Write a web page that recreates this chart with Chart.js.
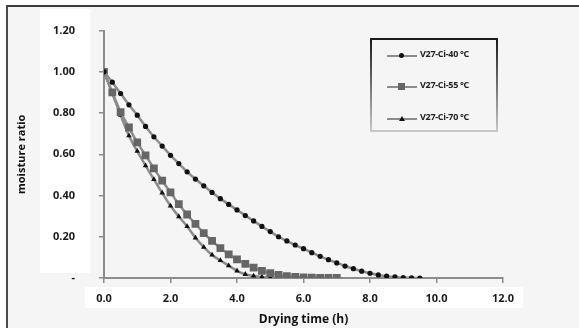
<!DOCTYPE html>
<html>
<head>
<meta charset="utf-8">
<script src="https://cdn.jsdelivr.net/npm/chart.js@4.4.1/dist/chart.umd.min.js"></script>
<style>
  html, body { margin: 0; padding: 0; background: #fff; }
  #wrap { position: relative; width: 579px; height: 328px; overflow: hidden; background: #fff; }
  #panel { position: absolute; left: 6px; top: 5px; width: 600px; height: 340px;
           border-left: 2px solid #4a4a4a; border-top: 2px solid #3a3a3a; background: #f5f5f5; }
  .wbox { position: absolute; background: #fff; }
  #chart { position: absolute; left: 0; top: 0; }
  #legend { position: absolute; left: 370px; top: 38px; width: 124px; height: 90px;
            border: 2px solid; border-image: linear-gradient(#1a1a1a, #c8c8c8) 1; }
  .row { position: absolute; left: 15px; height: 10px; }
  .ln { position: absolute; left: 0; top: 4px; width: 30px; height: 1.5px; background: #8c8c8c; }
  .mk { position: absolute; }
  .tx { position: absolute; left: 33px; top: -4px; white-space: nowrap;
        font: bold 9px "Open Sans", sans-serif; color: #222; letter-spacing: -0.3px; }
</style>
</head>
<body>
<div id="wrap">
  <div id="panel"></div>
  <div class="wbox" style="left:40px;top:9px;width:50px;height:264px"></div>
  <div class="wbox" style="left:85px;top:287px;width:438px;height:21px"></div>
  <canvas id="chart" width="579" height="328"></canvas>
  <div id="legend"></div>
</div>
<script>
// drying curves, moisture ratio vs time, readings every 0.25 h
const hours = [0, 0.25, 0.5, 0.75, 1, 1.25, 1.5, 1.75, 2, 2.25, 2.5, 2.75, 3, 3.25, 3.5, 3.75,
  4, 4.25, 4.5, 4.75, 5, 5.25, 5.5, 5.75, 6, 6.25, 6.5, 6.75, 7, 7.25, 7.5, 7.75,
  8, 8.25, 8.5, 8.75, 9, 9.25, 9.5];

const mr40 = [1.00, 0.95, 0.895, 0.84, 0.79, 0.735, 0.685, 0.64, 0.595, 0.555, 0.515, 0.48,
  0.447, 0.415, 0.385, 0.357, 0.33, 0.303, 0.277, 0.25, 0.225, 0.20, 0.18, 0.16, 0.142,
  0.123, 0.105, 0.089, 0.073, 0.058, 0.045, 0.033, 0.023, 0.015, 0.009, 0.005, 0.002, 0.001, 0.0];

const mr55 = [1.00, 0.90, 0.805, 0.73, 0.658, 0.595, 0.532, 0.472, 0.415, 0.358, 0.308, 0.262,
  0.218, 0.18, 0.145, 0.115, 0.09, 0.068, 0.05, 0.035, 0.024, 0.015, 0.009, 0.005, 0.003,
  0.002, 0.001, 0.0, 0.0];

const mr70 = [1.00, 0.895, 0.79, 0.69, 0.615, 0.545, 0.478, 0.413, 0.35, 0.298, 0.25, 0.195,
  0.15, 0.112, 0.085, 0.06, 0.035, 0.018, 0.01, 0.005, 0.003, 0.001, 0.0, 0.0, 0.0];

const seriesNames = ['V27-Ci-40 °C', 'V27-Ci-55 °C', 'V27-Ci-70 °C'];
const xTicks = [0, 2, 4, 6, 8, 10, 12];
const yTicks = [0, 0.2, 0.4, 0.6, 0.8, 1.0, 1.2];

function pts(vals) {
  return vals.map((v, i) => ({ x: hours[i], y: v }));
}

const LINE = '#8c8c8c';
const FONT = '"Open Sans", sans-serif';

function makeSet(label, vals, style, color, radius) {
  return {
    label,
    data: pts(vals),
    borderColor: LINE,
    borderWidth: 2.5,
    cubicInterpolationMode: 'monotone',
    pointStyle: style,
    pointRadius: radius,
    pointBackgroundColor: color,
    pointBorderColor: color,
    pointBorderWidth: 0,
    fill: false
  };
}

const chart = new Chart(document.getElementById('chart'), {
  type: 'line',
  data: {
    datasets: [
      makeSet(seriesNames[0], mr40, 'circle', '#111', 2.6),
      makeSet(seriesNames[1], mr55, 'rect', '#666', 5.5),
      makeSet(seriesNames[2], mr70, 'triangle', '#111', 3.2)
    ]
  },
  options: {
    responsive: false,
    animation: false,
    devicePixelRatio: 1,
    layout: { padding: { left: 0, top: 22, right: 76, bottom: 0 } },
    scales: {
      x: {
        type: 'linear', min: 0, max: 12,
        afterFit: s => { s.height = 50; },
        afterBuildTicks: s => { s.ticks = xTicks.map(v => ({ value: v })); },
        ticks: { callback: v => v.toFixed(1), color: '#1a1a1a', padding: 9,
                 font: { family: FONT, size: 11, weight: 'bold' }, maxRotation: 0 },
        grid: { drawOnChartArea: false, tickLength: 5, color: LINE, lineWidth: 1.5 },
        border: { color: LINE, width: 2 },
        title: { display: true, text: 'Drying time (h)', color: '#111',
                 font: { family: FONT, size: 12, weight: 'bold' }, padding: { top: 0, bottom: 1 } }
      },
      y: {
        min: 0, max: 1.2,
        afterFit: s => { s.width = 104; },
        afterBuildTicks: s => { s.ticks = yTicks.map(v => ({ value: v })); },
        ticks: { callback: v => v === 0 ? '-' : v.toFixed(2), color: '#1a1a1a', padding: 24,
                 font: { family: FONT, size: 11, weight: 'bold' } },
        grid: { drawOnChartArea: false, tickLength: 5, color: LINE, lineWidth: 1.5 },
        border: { color: LINE, width: 2 },
        title: { display: true, text: 'moisture ratio', color: '#111',
                 font: { family: FONT, size: 11, weight: 'bold' }, padding: { top: 15, bottom: 0 } }
      }
    },
    plugins: { legend: { display: false }, tooltip: { enabled: false } }
  }
});

// legend box like the excel one, built from the datasets
const legendEl = document.getElementById('legend');
const rowTops = [11, 42, 74];
chart.data.datasets.forEach((ds, i) => {
  const row = document.createElement('div');
  row.className = 'row';
  row.style.top = rowTops[i] + 'px';
  let mk;
  if (ds.pointStyle === 'circle') {
    mk = '<span class="mk" style="left:12px;top:2px;width:5px;height:5px;border-radius:50%;background:' + ds.pointBackgroundColor + '"></span>';
  } else if (ds.pointStyle === 'rect') {
    mk = '<span class="mk" style="left:11px;top:1px;width:7px;height:7px;background:' + ds.pointBackgroundColor + '"></span>';
  } else {
    mk = '<span class="mk" style="left:12px;top:2px;width:0;height:0;border-left:3px solid transparent;border-right:3px solid transparent;border-bottom:5px solid ' + ds.pointBackgroundColor + '"></span>';
  }
  row.innerHTML = '<span class="ln"></span>' + mk + '<span class="tx">' + ds.label + '</span>';
  legendEl.appendChild(row);
});
</script>
</body>
</html>
